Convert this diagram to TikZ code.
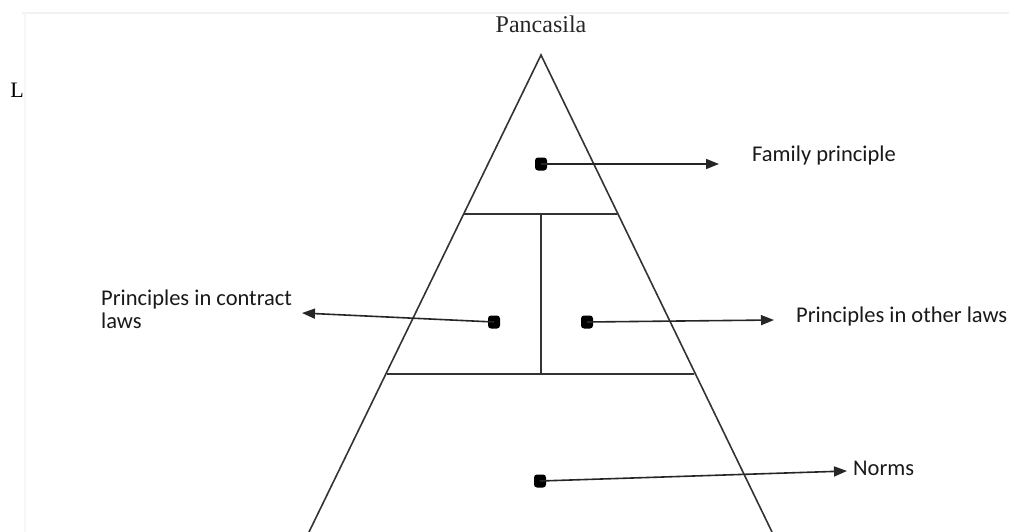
\documentclass[tikz,border=0pt]{standalone}
\usepackage{fontspec}
\setmainfont{Liberation Serif}
\newfontfamily\labelfont{Carlito}
\usetikzlibrary{arrows.meta}
\begin{document}
\begin{tikzpicture}[x=1pt,y=-1pt,
  edge/.style={line width=1.6pt,draw=black!80},
  dot/.style={fill=black,rounded corners=3pt,minimum width=12pt,minimum height=13pt,inner sep=0pt},
  ptr/.style={line width=1.6pt,draw=black!85,-{Triangle[length=13pt,width=10pt]}},
  lbl/.style={font=\labelfont\fontsize{22.5}{26}\selectfont,text=black!90,inner sep=0pt,align=left},
  frame/.style={line width=1.5pt,draw=black!5}]
\useasboundingbox (0,0) rectangle (1009,532);
% faint scan frame
\draw[frame] (22,13) -- (1009,13);
\draw[frame,draw=black!3] (25,13) -- (25,532);
% pyramid
\coordinate (apex) at (541,55);
\coordinate (bl) at (309,532);
\coordinate (br) at (772,532);
\draw[edge] (bl) -- (apex) -- (br);
\coordinate (h1l) at (463,214);
\coordinate (h1r) at (617,214);
\coordinate (h2l) at (387,374);
\coordinate (h2r) at (694,374);
\draw[edge] (h1l) -- (h1r);
\draw[edge] (h2l) -- (h2r);
\coordinate (vt) at (541,214);
\coordinate (vb) at (541,374);
\draw[edge] (vt) -- (vb);
% texts
\node[font=\fontsize{24}{28}\selectfont,text=black!85,inner sep=0pt] (title) at (541,24) {Pancasila};
\node[font=\fontsize{22}{26}\selectfont,inner sep=0pt] (L) at (17,90) {L};
% dots
\node[dot] (d1) at (541,164) {};
\node[dot] (d2) at (494,322) {};
\node[dot] (d3) at (587,322) {};
\node[dot] (d4) at (540,481) {};
% arrow ends
\coordinate (e1) at (719,164);
\coordinate (e2) at (302,313);
\coordinate (e3) at (774,320);
\coordinate (e4) at (847,471);
\draw[ptr] (d1.center) -- (e1);
\draw[ptr] (d2.center) -- (e2);
\draw[ptr] (d3.center) -- (e3);
\draw[ptr] (d4.center) -- (e4);
% labels
\node[lbl,anchor=west] (t1) at (752,156) {Family principle};
\node[lbl,anchor=north west] (t2) at (101,290) {Principles in contract\\[-3pt]laws};
\node[lbl,anchor=west] (t3) at (796,316) {Principles in other laws};
\node[lbl,anchor=west] (t4) at (853,468) {Norms};
\end{tikzpicture}
\end{document}
